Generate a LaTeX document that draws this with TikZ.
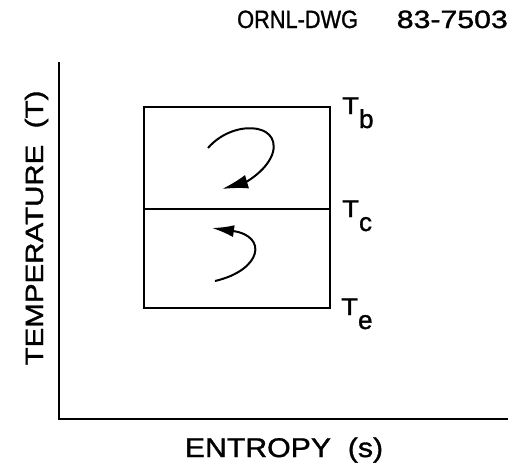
\documentclass[tikz,border=0pt]{standalone}
\usepackage{graphicx}
\usepackage{fontspec}
\setmainfont{Liberation Sans}
\newfontfamily\leroy{Liberation Sans}[FakeBold=1.2]
\usetikzlibrary{arrows.meta}
\tikzset{
  ax/.style={draw, line width=1.8pt},
  cell/.style={draw, line width=1.6pt, minimum width=186pt, inner sep=0pt, anchor=north west},
  flow/.style={line width=2pt, -{Latex[length=26pt,width=14pt]}},
  flowb/.style={line width=2pt, -{Latex[length=22pt,width=12pt]}},
  tlab/.style={inner sep=0pt, anchor=base west, font=\leroy},
  axlab/.style={font=\leroy\fontsize{25}{26}\selectfont, inner sep=0pt}
}
\newcommand{\tsym}[1]{{\fontsize{24}{24}\selectfont\scalebox{1.15}[1]{T}}\raisebox{-14pt}{\fontsize{26}{26}\selectfont #1}}

\begin{document}
\begin{tikzpicture}[x=1pt, y=-1pt]
\useasboundingbox (0,0) rectangle (514,466);
% axes
\coordinate (ytop) at (59,62);
\coordinate (o) at (59,419);
\coordinate (xend) at (508,419);
\draw[ax] (ytop) -- (o) -- (xend);
\node[axlab, anchor=base, rotate=90] (tlabel) at (43,228) {\scalebox{1.18}[1]{TEMPERATURE\ \ (T)}};
\node[axlab, anchor=base, font=\leroy\fontsize{27}{28}\selectfont] (slabel) at (284,457) {\scalebox{1.12}[1]{ENTROPY\ \ (s)}};
\node[axlab, anchor=base west] (dwg) at (237,28) {\scalebox{0.87}[1]{ORNL-DWG}};
\node[axlab, anchor=base east] (dwgno) at (508,28) {\scalebox{1.21}[1]{83-7503}};
% the two stages
\node[cell, minimum height=102pt] (hot) at (143,106) {};
\node[cell, minimum height=99pt] (cold) at (143,208) {};
\node[tlab] (tb) at (342,114) {\tsym{b}};
\node[tlab] (tc) at (342,217) {\tsym{c}};
\node[tlab] (te) at (341,315) {\tsym{e}};
% circulation
\coordinate (h1) at (208,148);
\coordinate (h2) at (222,189);
\draw[flow] (h1) .. controls (232,120) and (280,122) .. (273,152) .. controls (268,170) and (246,182) .. (h2);
\coordinate (c1) at (215,281);
\coordinate (c2) at (212,228);
\draw[flowb] (c1) .. controls (262,270) and (268,236) .. (c2);
\end{tikzpicture}
\end{document}
